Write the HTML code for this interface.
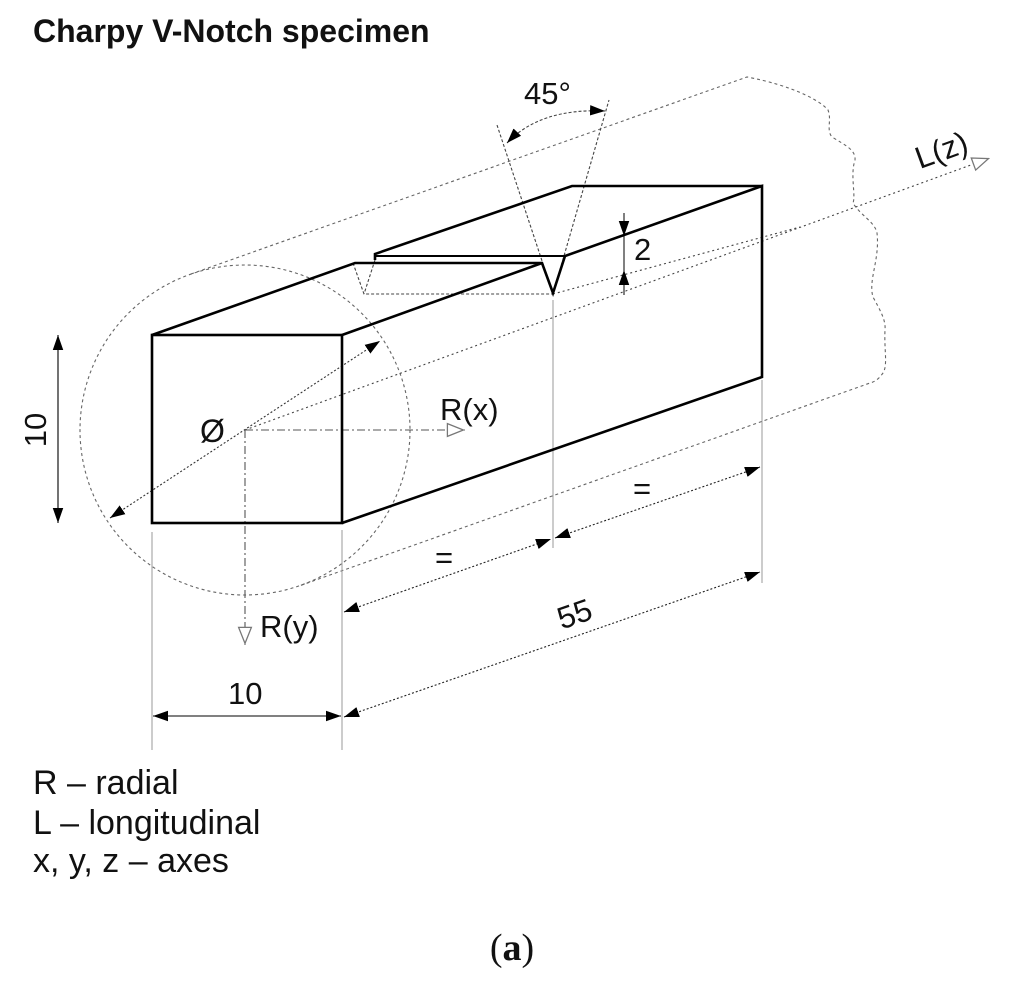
<!DOCTYPE html>
<html><head><meta charset="utf-8"><style>
html,body{margin:0;padding:0;background:#fff}
svg{display:block}
text{font-family:"Liberation Sans",sans-serif;fill:#111}
</style></head><body>
<svg width="1024" height="984" viewBox="0 0 1024 984" xmlns="http://www.w3.org/2000/svg">
<defs>
<marker id="fa" viewBox="0 0 10 10" refX="10" refY="5" markerWidth="15" markerHeight="15" markerUnits="userSpaceOnUse" orient="auto-start-reverse"><path d="M0,1.5 L10,5 L0,8.5 z" fill="#000"/></marker>
<marker id="ha" viewBox="0 0 12 10" refX="12" refY="5" markerWidth="20" markerHeight="16" markerUnits="userSpaceOnUse" orient="auto"><path d="M1,1 L11,5 L1,9 z" fill="#fff" stroke="#777" stroke-width="0.8"/></marker>
</defs>
<text x="33" y="42" font-size="32" font-weight="bold">Charpy V-Notch specimen</text>

<g fill="none" stroke="#666" stroke-width="1.1" stroke-dasharray="3,3">
<circle cx="245" cy="430" r="165"/>
<path d="M191,274 L747,77 C790,85 820,100 828,110 C832,120 826,130 832,137 C845,145 856,150 855,160 C850,175 856,195 853,203 C860,215 875,222 877,233 C880,260 868,280 873,297 C880,310 886,320 885,330 C884,350 888,365 883,373 C878,380 874,382 870,383 L299,586"/>
</g>

<g fill="none" stroke="#444" stroke-width="1.1" stroke-dasharray="2,3">
<line x1="245" y1="430" x2="990" y2="158" marker-end="url(#ha)"/>
<line x1="553" y1="294" x2="800" y2="227"/>
</g>

<line x1="110" y1="518" x2="380" y2="341" stroke="#333" stroke-width="1.1" stroke-dasharray="2,2" marker-start="url(#fa)" marker-end="url(#fa)"/>

<g fill="none" stroke="#555" stroke-width="1.1" stroke-dasharray="8,3,2,3">
<line x1="245" y1="430" x2="465" y2="430" marker-end="url(#ha)"/>
<line x1="245" y1="430" x2="245" y2="645" marker-end="url(#ha)"/>
</g>

<g stroke="#999" stroke-width="1">
<line x1="152" y1="532" x2="152" y2="750"/>
<line x1="342" y1="530" x2="342" y2="750"/>
<line x1="553" y1="300" x2="553" y2="548"/>
<line x1="762" y1="380" x2="762" y2="583"/>
</g>

<g fill="none" stroke="#444" stroke-width="1.1" stroke-dasharray="3,2">
<path d="M353,263 L364,294 L553,294"/>
<line x1="375" y1="260" x2="364" y2="294"/>
<line x1="553" y1="294" x2="497" y2="125"/>
<line x1="553" y1="294" x2="609" y2="100"/>
<path d="M507,143 Q540,108 605,111" marker-start="url(#fa)" marker-end="url(#fa)"/>
</g>

<g fill="none" stroke="#000" stroke-width="2.6" stroke-linejoin="miter">
<rect x="152" y="335" width="190" height="188"/>
<path d="M152,335 L355,263 L542,263 L553,293 L565,256 L762,186 L762,377 L342,523"/>
<path d="M342,335 L542,263"/>
<path d="M375,260 L375,254 L572,186 L762,186"/>
<path d="M375,256 L565,256" stroke-width="2"/>
</g>

<g stroke="#000" stroke-width="1">
<line x1="624" y1="213" x2="624" y2="236" marker-end="url(#fa)"/>
<line x1="624" y1="295" x2="624" y2="270" marker-end="url(#fa)"/>
<line x1="624" y1="236" x2="624" y2="270"/>
</g>

<g fill="none" stroke="#222" stroke-width="1.1" stroke-dasharray="2,2">
<line x1="58" y1="335" x2="58" y2="523" stroke-dasharray="none" stroke="#000" marker-start="url(#fa)" marker-end="url(#fa)"/>
<line x1="153" y1="716" x2="341" y2="716" stroke-dasharray="none" stroke="#000" marker-start="url(#fa)" marker-end="url(#fa)"/>
<line x1="344" y1="612" x2="551" y2="539" marker-start="url(#fa)" marker-end="url(#fa)"/>
<line x1="555" y1="538" x2="760" y2="467" marker-start="url(#fa)" marker-end="url(#fa)"/>
<line x1="344" y1="717" x2="760" y2="572" marker-start="url(#fa)" marker-end="url(#fa)"/>
</g>

<g font-size="31">
<text x="524" y="104">45°</text>
<text x="634" y="260">2</text>
<text x="440" y="420">R(x)</text>
<text x="260" y="637">R(y)</text>
<text x="200" y="442" font-size="32">Ø</text>
<text x="228" y="704">10</text>
<text x="0" y="0" transform="translate(46,430) rotate(-90)" text-anchor="middle">10</text>
<text x="0" y="0" transform="translate(578,624) rotate(-19)" text-anchor="middle">55</text>
<text x="0" y="0" transform="translate(945,160) rotate(-20)" text-anchor="middle">L(z)</text>
<text x="435" y="568">=</text>
<text x="633" y="499">=</text>
</g>
<g font-size="34">
<text x="33" y="794">R – radial</text>
<text x="33" y="834">L – longitudinal</text>
<text x="33" y="872">x, y, z – axes</text>
</g>
<text x="512" y="960" font-size="38" text-anchor="middle" style="font-family:'Liberation Serif',serif">(<tspan font-weight="bold">a</tspan>)</text>
</svg>
</body></html>
